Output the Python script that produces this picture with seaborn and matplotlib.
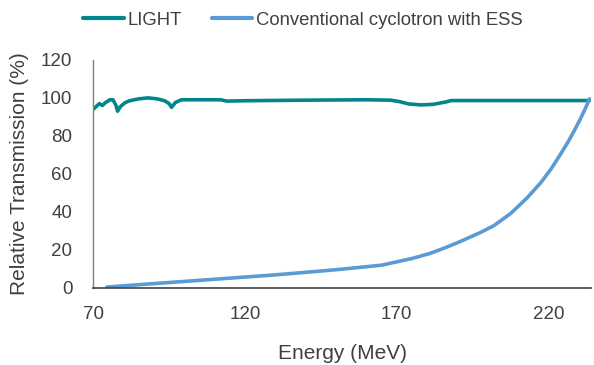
import seaborn as sns
import matplotlib.pyplot as plt
import pandas as pd

# LIGHT transmission
light_energy = [70, 71, 72, 73, 74, 75.5, 76.5, 77.5, 78, 79, 80.5, 82, 85, 88, 91,
                93.5, 95, 95.8, 97, 99, 105, 112, 114, 120, 140, 160, 168, 171, 174,
                178, 182, 186, 188, 200, 233.5]
light_trans = [94, 95.5, 97, 96, 97.5, 99, 99, 96, 93, 95.5, 97.5, 98.5, 99.5, 100, 99.5,
               98.5, 97, 95, 97.5, 99, 99, 99, 98.3, 98.5, 98.8, 99, 98.8, 98, 96.8,
               96.3, 96.6, 97.8, 98.6, 98.6, 98.6]

# Conventional cyclotron with ESS
ess_energy = [74.5, 90, 110, 130, 150, 165, 175, 181, 186, 191, 197.7, 202, 207.6, 213,
              217.5, 221, 224, 226.5, 228.5, 230.5, 232, 233.5]
ess_trans = [0.5, 2.3, 4.6, 6.9, 9.6, 12, 15.5, 18.2, 21.2, 24.5, 29.3, 32.8, 39.3, 47.5,
             55.5, 63, 70.5, 77, 82.8, 89, 94, 99.5]

series_names = ["LIGHT", "Conventional cyclotron with ESS"]
colors = ["#00868B", "#5B9BD5"]
x_ticks = [70, 120, 170, 220]
y_ticks = [0, 20, 40, 60, 80, 100, 120]

df = pd.concat([
    pd.DataFrame({"Energy": light_energy, "Trans": light_trans, "Series": series_names[0]}),
    pd.DataFrame({"Energy": ess_energy, "Trans": ess_trans, "Series": series_names[1]}),
])

sns.set_style("white")
plt.rcParams["font.family"] = ["Liberation Sans", "DejaVu Sans"]
text_col = "#404040"

fig = plt.figure(figsize=(5.94, 3.65), dpi=100)
ax = fig.add_axes([0.157, 0.211, 0.838, 0.625])

sns.lineplot(data=df, x="Energy", y="Trans", hue="Series", palette=colors,
             linewidth=2.6, sort=False, ax=ax)

ax.set_xlim(70, 234)
ax.set_ylim(0, 120)
ax.set_xticks(x_ticks)
ax.set_yticks(y_ticks)
ax.tick_params(axis="both", length=0, labelsize=13.5, colors=text_col)
ax.tick_params(axis="x", pad=13)
ax.tick_params(axis="y", pad=15)
ax.set_xlabel("Energy (MeV)", fontsize=15, color=text_col, labelpad=15)
ax.set_ylabel("Relative Transmission (%)", fontsize=15, color=text_col, labelpad=9)

for side in ["top", "right"]:
    ax.spines[side].set_visible(False)
ax.spines["left"].set_color("#808080")
ax.spines["bottom"].set_color("#404040")
ax.spines["left"].set_linewidth(1)
ax.spines["bottom"].set_linewidth(1.2)

handles, labels = ax.get_legend_handles_labels()
ax.get_legend().remove()
leg = fig.legend(handles, labels, loc="center", bbox_to_anchor=(0.51, 0.945),
                 ncol=2, frameon=False, fontsize=13.3, handlelength=2.2,
                 handletextpad=0.2, columnspacing=1.6, borderaxespad=0)
for t in leg.get_texts():
    t.set_color(text_col)
for line in leg.get_lines():
    line.set_linewidth(3)

fig.savefig("out.png", dpi=100)
